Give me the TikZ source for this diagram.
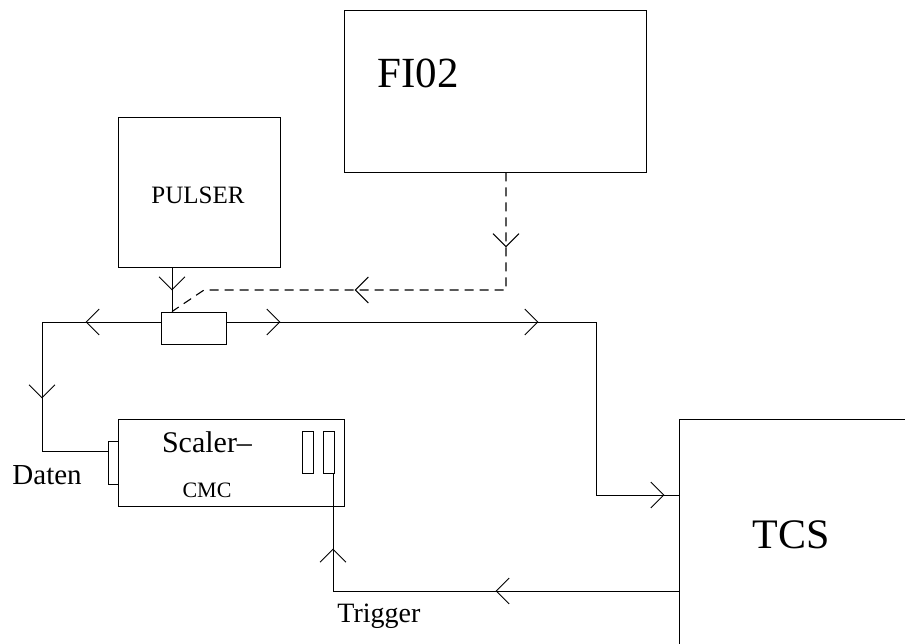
\documentclass[tikz,border=0pt]{standalone}
\usepackage{fontspec}
\setmainfont{Liberation Serif}
\usetikzlibrary{arrows.meta,decorations.markings}

\begin{document}
\begin{tikzpicture}[x=1pt,y=-1pt,line width=0.95pt,
  box/.style={draw,rectangle,inner sep=0pt,line width=0.95pt},
  barb/.tip={Straight Barb[length=13pt,width=26pt]},
  arrowat/.style={postaction={decorate,decoration={markings,
      mark=at position #1 with {\arrow{barb}}}}},
  lbl/.style={inner sep=0pt,anchor=base},
  sig/.style={draw,line width=0.95pt},
  dsig/.style={draw,line width=1.1pt,dash pattern=on 9pt off 6pt}]
\useasboundingbox (0,0) rectangle (905,643);
\clip (0,0) rectangle (905,643);

% units
\node[box,minimum width=302pt,minimum height=162pt] (fi) at (495,91) {};
\node[box,minimum width=162pt,minimum height=150pt] (pulser) at (199,192) {};
\node[box,minimum width=65pt,minimum height=32pt] (split) at (193.5,328) {};
\node[box,minimum width=226pt,minimum height=87pt] (scaler) at (231,462.5) {};
\node[box,fill=white,minimum width=10pt,minimum height=43pt] (daten) at (113,462.5) {};
\node[box,minimum width=11pt,minimum height=42pt] (slot1) at (307.5,452) {};
\node[box,minimum width=11pt,minimum height=42pt] (slot2) at (328.5,452) {};
\node[box,minimum width=321pt,minimum height=341pt] (tcs) at (839.5,589.5) {};

% labels
\node[lbl,anchor=base west,font=\fontsize{43}{43}\selectfont] (fitxt) at (377,87) {FI02};
\node[lbl,font=\fontsize{25}{25}\selectfont] (pulsertxt) at (198,203) {PULSER};
\node[lbl,font=\fontsize{30}{30}\selectfont] (scalertxt) at (207,452) {Scaler–};
\node[lbl,font=\fontsize{22}{22}\selectfont] (cmctxt) at (207,497) {CMC};
\node[lbl,anchor=base west,font=\fontsize{29}{29}\selectfont] (datentxt) at (12,484) {Daten};
\node[lbl,anchor=base west,font=\fontsize{28}{28}\selectfont] (triggertxt) at (337,622) {Trigger};
\node[lbl,font=\fontsize{42}{42}\selectfont] (tcstxt) at (791,548) {TCS};

% corners of the signal lines
\coordinate (lcorner) at (42,322);
\coordinate (rcorner) at (596,322);
\coordinate (dbend) at (204,290);

% pulser into splitter
\path[sig,arrowat=23pt] ([xshift=-27pt]pulser.south) -- ([xshift=-27pt]pulser.south |- split.north);

% splitter to scaler data input
\path[sig,arrowat=75pt,arrowat=195pt]
  ([yshift=6pt]split.west) -- (lcorner) |- ([yshift=11.5pt]daten.west);

% splitter to TCS
\path[sig,arrowat=54pt,arrowat=312pt,arrowat=611pt]
  ([yshift=6pt]split.east) -- (rcorner) |- ([yshift=94.5pt]tcs.west);

% FI02 into splitter (dashed)
\path[dsig,arrowat=75pt,arrowat=269pt]
  ([xshift=11pt]fi.south) |- (dbend) -- ([xshift=-27pt]pulser.south |- split.north);

% TCS trigger back to the scaler
\path[sig,arrowat=183pt,arrowat=388pt]
  ([yshift=-1.5pt]tcs.west) -| ([xshift=4.5pt]slot2.south);
\end{tikzpicture}
\end{document}
